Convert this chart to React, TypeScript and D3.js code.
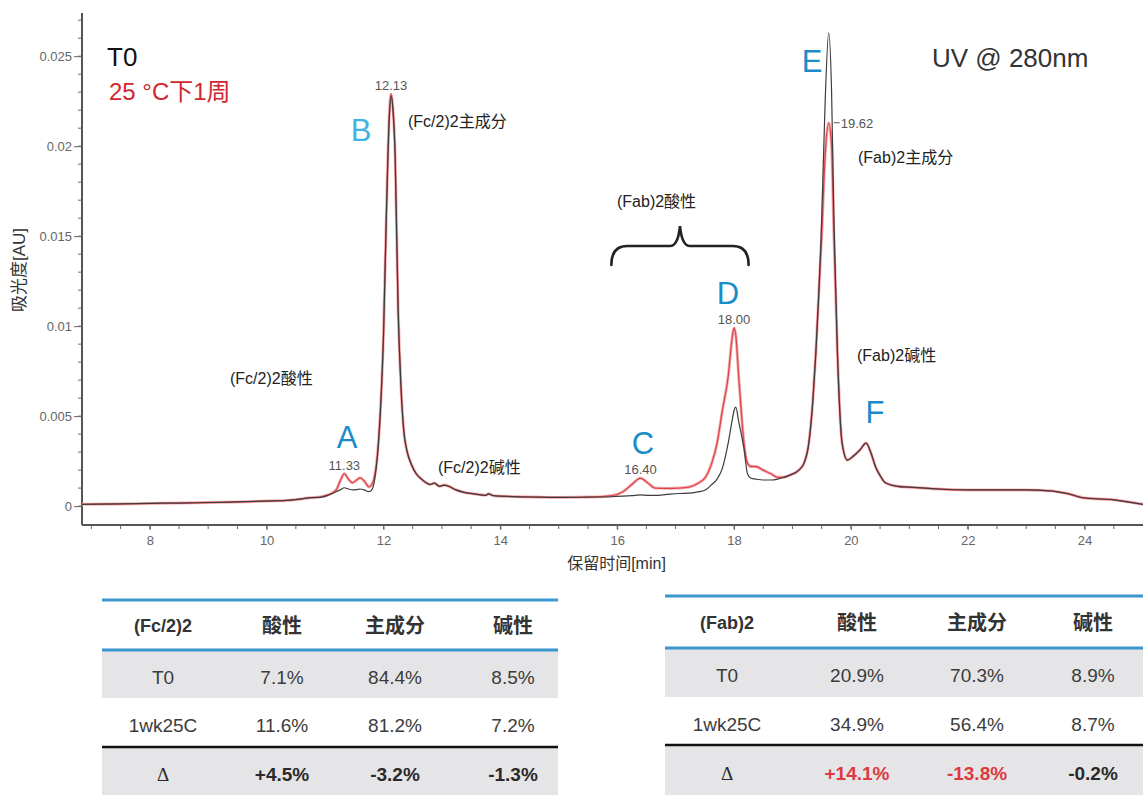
import { useEffect, useRef } from "react";
import * as d3 from "d3";

const W = 1143;
const H = 795;
const FONT = "'Liberation Sans', Arial, 'Noto Sans CJK SC', sans-serif";

// retention time [min]
const TIMES = [
  6.84, 7.5, 8.0, 8.5, 9.0, 9.5, 10.0, 10.4, 10.6, 10.75, 10.9, 11.05, 11.19, 11.26, 11.33, 11.4, 11.47,
  11.54, 11.6, 11.67, 11.75, 11.8, 11.85, 11.9, 11.95, 12.0, 12.05, 12.1, 12.13, 12.16, 12.2, 12.25, 12.3,
  12.35, 12.4, 12.48, 12.56, 12.65, 12.73, 12.8, 12.87, 12.96, 13.04, 13.12, 13.24, 13.4, 13.58, 13.75,
  13.8, 13.88, 14.2, 14.6, 15.0, 15.5, 15.9, 16.1, 16.25, 16.4, 16.52, 16.65, 16.85, 17.06, 17.23, 17.4,
  17.51, 17.62, 17.71, 17.8, 17.9, 17.97, 18.0, 18.03, 18.08, 18.13, 18.17, 18.23, 18.29, 18.37, 18.5,
  18.63, 18.75, 18.85, 18.94, 19.11, 19.2, 19.28, 19.35, 19.4, 19.5, 19.56, 19.62, 19.67, 19.71, 19.77,
  19.85, 19.94, 20.05, 20.15, 20.26, 20.35, 20.42, 20.5, 20.59, 20.8, 21.0, 21.5, 22.0, 22.5, 23.0, 23.4,
  23.7, 24.0, 24.5, 25.0,
];

// T0 absorbance [AU]
const T0_ABS = [
  0.0001, 0.00012, 0.00015, 0.00017, 0.0002, 0.00023, 0.00028, 0.00033, 0.0004, 0.00047, 0.00048, 0.0006,
  0.0008, 0.0009, 0.00102, 0.00095, 0.0009, 0.00092, 0.00095, 0.0009, 0.0008, 0.0009, 0.0015, 0.0029,
  0.0054, 0.0094, 0.0162, 0.0216, 0.0228, 0.0221, 0.0194, 0.011, 0.0066, 0.0041, 0.0031, 0.0023, 0.0018,
  0.0015, 0.0013, 0.0012, 0.00128, 0.0011, 0.00117, 0.0011, 0.0009, 0.00075, 0.00067, 0.0006, 0.00068,
  0.00058, 0.00053, 0.0005, 0.00048, 0.0005, 0.00052, 0.00055, 0.00058, 0.00062, 0.0006, 0.0006, 0.00065,
  0.0007, 0.00072, 0.0008, 0.0009, 0.0012, 0.0015, 0.0021, 0.0035, 0.0048, 0.0053, 0.0055, 0.0047, 0.0039,
  0.0032, 0.0018, 0.00155, 0.0015, 0.00145, 0.00145, 0.0015, 0.0016, 0.0017, 0.002, 0.0024, 0.0035, 0.0059,
  0.0085, 0.0159, 0.0225, 0.0263, 0.023, 0.0159, 0.0085, 0.0035, 0.00256, 0.0028, 0.0031, 0.0035, 0.0029,
  0.0022, 0.0017, 0.0013, 0.0011, 0.00105, 0.00095, 0.0009, 0.0009, 0.0009, 0.00085, 0.0007, 0.00045,
  0.00035, 0.0001,
];

// 25 °C 1 week absorbance [AU]
const WK1_ABS = [
  0.0001, 0.00012, 0.00015, 0.00017, 0.0002, 0.00023, 0.00028, 0.00033, 0.0004, 0.00047, 0.0005, 0.00062,
  0.0009, 0.0014, 0.0018, 0.0015, 0.0013, 0.00145, 0.00157, 0.0014, 0.00107, 0.0012, 0.0017, 0.003, 0.0055,
  0.0095, 0.0163, 0.0218, 0.0229, 0.0222, 0.0195, 0.011, 0.0066, 0.0041, 0.0031, 0.0023, 0.0018, 0.0015,
  0.0013, 0.0012, 0.00128, 0.0011, 0.00117, 0.0011, 0.0009, 0.00075, 0.00067, 0.0006, 0.00068, 0.00058,
  0.00053, 0.0005, 0.00048, 0.0005, 0.00058, 0.0008, 0.0012, 0.00155, 0.0013, 0.001, 0.00098, 0.001,
  0.00106, 0.0013, 0.0016, 0.0024, 0.0035, 0.0053, 0.0072, 0.0094, 0.0099, 0.0095, 0.0072, 0.005, 0.0035,
  0.0024, 0.0022, 0.0022, 0.002, 0.0018, 0.0016, 0.0016, 0.0017, 0.002, 0.0024, 0.0035, 0.0059, 0.0085,
  0.015, 0.0195, 0.0213, 0.02, 0.015, 0.0085, 0.0035, 0.00256, 0.0028, 0.0031, 0.0035, 0.0029, 0.0022,
  0.0017, 0.0013, 0.0011, 0.00105, 0.00095, 0.0009, 0.0009, 0.0009, 0.00085, 0.0007, 0.00045, 0.00035,
  0.0001,
];

const Y_TICKS = [0, 0.005, 0.01, 0.015, 0.02, 0.025];
const X_TICKS = [8, 10, 12, 14, 16, 18, 20, 22, 24];

const PEAK_NAMES = ["A", "B", "C", "D", "E", "F"];
const PEAK_RT = [11.33, 12.13, 16.4, 18.0, 19.62, 20.25];

const FC_HEADER = ["(Fc/2)2", "酸性", "主成分", "碱性"];
const FC_ROWS = [
  ["T0", "7.1%", "84.4%", "8.5%"],
  ["1wk25C", "11.6%", "81.2%", "7.2%"],
  ["Δ", "+4.5%", "-3.2%", "-1.3%"],
];
const FAB_HEADER = ["(Fab)2", "酸性", "主成分", "碱性"];
const FAB_ROWS = [
  ["T0", "20.9%", "70.3%", "8.9%"],
  ["1wk25C", "34.9%", "56.4%", "8.7%"],
  ["Δ", "+14.1%", "-13.8%", "-0.2%"],
];

export default function App() {
  const svgRef = useRef<SVGSVGElement | null>(null);

  useEffect(() => {
    const svg = d3.select(svgRef.current);
    svg.selectAll("*").remove();

    const x = d3.scaleLinear().domain([6.84, 25.0]).range([82, W]);
    const y = d3.scaleLinear().domain([-0.00105, 0.0274]).range([525, 13]);

    const t0 = TIMES.map((t, i) => ({ t, v: T0_ABS[i] }));
    const wk = TIMES.map((t, i) => ({ t, v: WK1_ABS[i] }));

    svg.append("rect").attr("width", W).attr("height", H).attr("fill", "#fff");

    // axes
    const yAxis = svg
      .append("g")
      .attr("transform", `translate(${x.range()[0]},0)`)
      .call(d3.axisLeft(y).tickValues(Y_TICKS).tickSize(8).tickPadding(2).tickFormat((d) => String(+(+d).toFixed(3))));
    yAxis
      .append("g")
      .selectAll("line")
      .data(d3.range(0, 28).map((i) => i * 0.001))
      .join("line")
      .attr("x1", -4)
      .attr("x2", 0)
      .attr("y1", (d) => y(d))
      .attr("y2", (d) => y(d))
      .attr("stroke", "#666");

    const xAxis = svg
      .append("g")
      .attr("transform", `translate(0,${y.range()[0]})`)
      .call(d3.axisBottom(x).tickValues(X_TICKS).tickSize(5).tickPadding(6).tickFormat((d) => String(d)));
    xAxis
      .append("g")
      .selectAll("line")
      .data(d3.range(14, 50).map((i) => i * 0.5))
      .join("line")
      .attr("x1", (d) => x(d))
      .attr("x2", (d) => x(d))
      .attr("y1", 0)
      .attr("y2", 4)
      .attr("stroke", "#666");

    [yAxis, xAxis].forEach((a) => {
      a.select(".domain").attr("stroke", "#555").attr("stroke-width", 2);
      a.selectAll(".tick line").attr("stroke", "#666");
      a.selectAll("text").attr("fill", "#666").style("font-family", FONT).style("font-size", "13px");
    });
    yAxis.select(".domain").attr("d", `M0,${y.range()[1]}V${y.range()[0]}`);
    xAxis.select(".domain").attr("d", `M${x.range()[0]},0H${x.range()[1]}`);

    svg
      .append("text")
      .attr("transform", `translate(25,${270}) rotate(-90)`)
      .attr("text-anchor", "middle")
      .attr("fill", "#333")
      .style("font-family", FONT)
      .style("font-size", "17px")
      .text("吸光度[AU]");
    svg
      .append("text")
      .attr("x", (x(6.84) + x(25)) / 2 + 4)
      .attr("y", 569)
      .attr("text-anchor", "middle")
      .attr("fill", "#333")
      .style("font-family", FONT)
      .style("font-size", "16px")
      .text("保留时间[min]");

    // traces
    const line = d3
      .line<{ t: number; v: number }>()
      .x((d) => x(d.t))
      .y((d) => y(d.v))
      .curve(d3.curveMonotoneX);

    svg.append("path").datum(wk).attr("d", line).attr("fill", "none").attr("stroke", "#f3b1b3").attr("stroke-width", 3);
    svg.append("path").datum(wk).attr("d", line).attr("fill", "none").attr("stroke", "#e0454c").attr("stroke-width", 1.3);
    svg.append("path").datum(t0).attr("d", line).attr("fill", "none").attr("stroke", "#3d3d3d").attr("stroke-width", 1.2);

    const text = (
      t: number,
      v: number,
      s: string,
      size: number,
      fill: string,
      anchor = "start",
      weight = "normal"
    ) =>
      svg
        .append("text")
        .attr("x", x(t))
        .attr("y", y(v))
        .attr("text-anchor", anchor)
        .attr("fill", fill)
        .style("font-family", FONT)
        .style("font-size", `${size}px`)
        .style("font-weight", weight)
        .text(s);

    // peak retention labels
    PEAK_RT.forEach((rt, i) => {
      const j = TIMES.indexOf(rt);
      const top = Math.max(T0_ABS[j], WK1_ABS[j]);
      if (PEAK_NAMES[i] === "E") {
        const px = x(rt);
        const py = y(WK1_ABS[j]);
        svg.append("line").attr("x1", px + 5).attr("x2", px + 11).attr("y1", py).attr("y2", py).attr("stroke", "#555");
        svg
          .append("text")
          .attr("x", px + 12)
          .attr("y", py + 5)
          .attr("fill", "#555")
          .style("font-family", FONT)
          .style("font-size", "13px")
          .text(rt.toFixed(2));
      } else {
        svg
          .append("text")
          .attr("x", x(rt))
          .attr("y", y(top) - 4)
          .attr("text-anchor", "middle")
          .attr("fill", "#555")
          .style("font-family", FONT)
          .style("font-size", "13px")
          .text(rt.toFixed(2));
      }
    });

    // peak letters (annotation placement)
    const letterAt: [number, number][] = [
      [11.376, 0.00323],
      [11.615, 0.02029],
      [16.442, 0.0029],
      [17.897, 0.01123],
      [19.335, 0.02412],
      [20.413, 0.00462],
    ];
    PEAK_NAMES.forEach((n, i) =>
      text(letterAt[i][0], letterAt[i][1], n, 31, n === "B" ? "#42b2e2" : "#1b8cc8", "middle")
    );

    // region annotations
    text(9.373, 0.00678, "(Fc/2)2酸性", 16, "#222");
    text(12.42, 0.02107, "(Fc/2)2主成分", 16, "#222");
    text(12.933, 0.00184, "(Fc/2)2碱性", 16, "#222");
    text(15.997, 0.01662, "(Fab)2酸性", 16, "#222");
    text(20.122, 0.01906, "(Fab)2主成分", 16, "#222");
    text(20.105, 0.00806, "(Fab)2碱性", 16, "#222");
    text(21.388, 0.0244, "UV @ 280nm", 26, "#333");
    text(7.268, 0.02445, "T0", 26, "#111");
    text(7.302, 0.02257, "25 °C下1周", 24, "#d0262d");

    // brace over the (Fab)2 acidic region
    const bx0 = x(15.9);
    const bx1 = x(18.25);
    const bxc = x(17.075);
    const yFoot = y(0.0134);
    const yBar = y(0.01445);
    const yTip = y(0.01556);
    const brace = d3.path();
    brace.moveTo(bx0, yFoot);
    brace.quadraticCurveTo(bx0, yBar, bx0 + 16, yBar);
    brace.lineTo(bxc - 10, yBar);
    brace.quadraticCurveTo(bxc - 2, yBar, bxc, yTip);
    brace.quadraticCurveTo(bxc + 2, yBar, bxc + 10, yBar);
    brace.lineTo(bx1 - 16, yBar);
    brace.quadraticCurveTo(bx1, yBar, bx1, yFoot);
    svg
      .append("path")
      .attr("d", brace.toString())
      .attr("fill", "none")
      .attr("stroke", "#222")
      .attr("stroke-width", 2.6)
      .attr("stroke-linecap", "round");

    // tables
    const drawTable = (
      header: string[],
      rows: string[][],
      x0: number,
      x1: number,
      cols: number[],
      lines: number[],
      redCells: number[]
    ) => {
      const g = svg.append("g");
      const [top, hLine, r1, r2, bottom] = lines;
      g.append("rect").attr("x", x0).attr("y", hLine).attr("width", x1 - x0).attr("height", r1 - hLine).attr("fill", "#e5e5e7");
      g.append("rect").attr("x", x0).attr("y", r2).attr("width", x1 - x0).attr("height", bottom - r2).attr("fill", "#e5e5e7");
      g.append("line").attr("x1", x0).attr("x2", x1).attr("y1", top).attr("y2", top).attr("stroke", "#3a97d0").attr("stroke-width", 3);
      g.append("line").attr("x1", x0).attr("x2", x1).attr("y1", hLine).attr("y2", hLine).attr("stroke", "#3a97d0").attr("stroke-width", 3);
      g.append("line").attr("x1", x0).attr("x2", x1).attr("y1", r2).attr("y2", r2).attr("stroke", "#111").attr("stroke-width", 2.5);

      header.forEach((h, i) => {
        g.append("text")
          .attr("x", cols[i])
          .attr("y", (top + hLine) / 2 + 1)
          .attr("dy", "0.35em")
          .attr("text-anchor", "middle")
          .attr("fill", "#333")
          .style("font-family", FONT)
          .style("font-size", i === 0 ? "18px" : "20px")
          .style("font-weight", "bold")
          .text(h);
      });
      const centers = [(hLine + r1) / 2 + 3, (r1 + r2) / 2 + 3, (r2 + bottom) / 2 + 3];
      rows.forEach((row, ri) => {
        row.forEach((c, ci) => {
          const isDelta = ri === 2;
          g.append("text")
            .attr("x", cols[ci])
            .attr("y", centers[ri])
            .attr("dy", "0.35em")
            .attr("text-anchor", "middle")
            .attr("fill", isDelta && redCells.includes(ci) ? "#dc3a40" : isDelta ? "#2a2a2a" : "#3c3c3c")
            .style("font-family", isDelta && ci === 0 ? "'Liberation Serif', 'DejaVu Serif', serif" : FONT)
            .style("font-size", "19px")
            .style("font-weight", isDelta && ci > 0 ? "bold" : "normal")
            .text(c);
        });
      });
    };

    drawTable(FC_HEADER, FC_ROWS, 102, 558, [163, 282, 395, 513], [600, 650, 698, 747, H], []);
    drawTable(FAB_HEADER, FAB_ROWS, 665, W, [727, 857, 977, 1093], [596, 648, 697, 745, H], [1, 2]);
  }, []);

  return (
    <div style={{ position: "absolute", left: 0, top: 0 }}>
      <svg ref={svgRef} width={W} height={H} style={{ display: "block" }} />
    </div>
  );
}
